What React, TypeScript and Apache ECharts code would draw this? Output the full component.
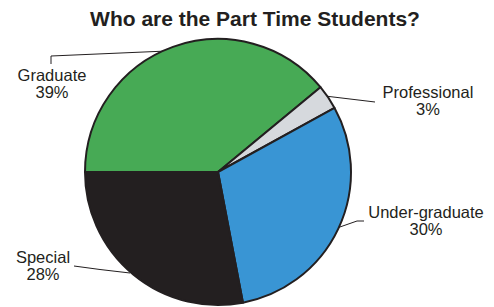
import React, { useEffect, useRef } from "react";
import * as echarts from "echarts";

const categories = ["Graduate", "Professional", "Under-graduate", "Special"];
const percents = [39, 3, 30, 28];
const colors = ["#47aa55", "#d6d9dd", "#3995d4", "#231f20"];

// label layout (positions only)
const labelPos: [number, number][] = [
  [52, 83],
  [428, 100],
  [426, 220],
  [43, 265],
];
const linePts: [number, number][][] = [
  [[167, 51], [51, 56], [51, 64]],
  [[325, 96], [350, 99], [375, 102]],
  [[337, 228], [357, 221], [364, 221]],
  [[130, 273], [100, 269.5], [74, 266]],
];

export default function App() {
  const ref = useRef<HTMLDivElement>(null);
  useEffect(() => {
    const chart = echarts.init(ref.current!, null, { renderer: "svg" });
    chart.setOption({
      animation: false,
      backgroundColor: "#ffffff",
      title: {
        text: "Who are the Part Time Students?",
        left: 250,
        textAlign: "center",
        top: 3,
        textStyle: {
          fontFamily: "Liberation Sans, Arial, sans-serif",
          fontWeight: "bold",
          fontSize: 21,
          color: "#231f20",
        },
      },
      series: [
        {
          type: "pie",
          center: [218, 172],
          radius: 133,
          startAngle: 180,
          clockwise: true,
          avoidLabelOverlap: false,
          itemStyle: { borderColor: "#231f20", borderWidth: 2 },
          label: {
            show: true,
            formatter: "{b}\n{c}%",
            fontFamily: "Liberation Sans, Arial, sans-serif",
            fontSize: 16.5,
            lineHeight: 17,
            color: "#231f20",
            align: "center",
          },
          labelLine: {
            show: true,
            lineStyle: { color: "#231f20", width: 1 },
          },
          labelLayout: (params: any) => {
            const i = params.dataIndex;
            return {
              x: labelPos[i][0],
              y: labelPos[i][1],
              align: "center",
              verticalAlign: "middle",
              labelLinePoints: linePts[i],
            };
          },
          data: categories.map((name, i) => ({
            name,
            value: percents[i],
            itemStyle: { color: colors[i] },
          })),
        },
      ],
    });
    return () => chart.dispose();
  }, []);
  return (
    <div
      ref={ref}
      style={{ position: "fixed", left: 0, top: 0, width: 494, height: 307 }}
    />
  );
}
